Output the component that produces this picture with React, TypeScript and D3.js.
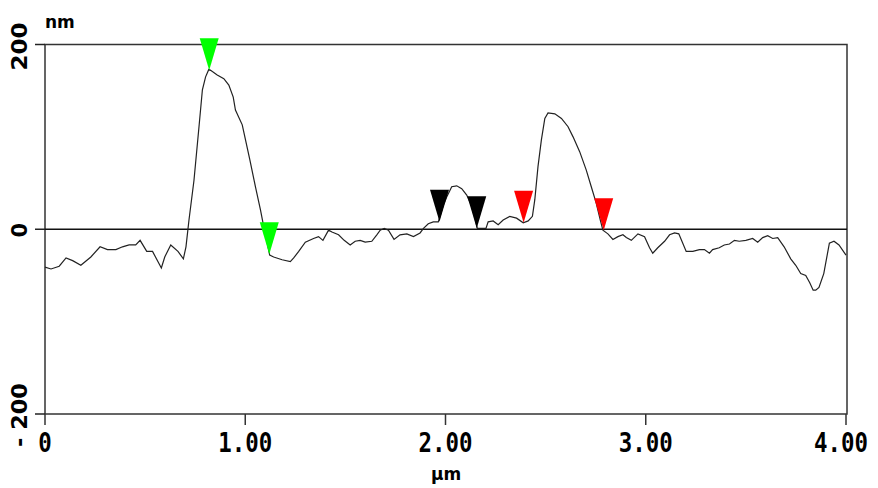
import React from "react";
import * as d3 from "d3";

// profile: distance (µm) / height (nm)
const xs = [
  0, 0.03, 0.071, 0.105, 0.138, 0.179, 0.229, 0.275, 0.312, 0.354, 0.387, 0.42, 0.453, 0.475,
  0.508, 0.537, 0.581, 0.598, 0.628, 0.664, 0.691, 0.704, 0.719, 0.744, 0.769, 0.786, 0.802,
  0.818, 0.827, 0.86, 0.893, 0.918, 0.94, 0.951, 0.985, 1.001, 1.023, 1.051, 1.076, 1.092,
  1.122, 1.142, 1.184, 1.225, 1.242, 1.267, 1.3, 1.341, 1.366, 1.388, 1.416, 1.433, 1.466,
  1.494, 1.524, 1.549, 1.574, 1.599, 1.632, 1.657, 1.674, 1.694, 1.715, 1.743, 1.773, 1.807,
  1.84, 1.873, 1.89, 1.914, 1.939, 1.964, 1.989, 2.006, 2.022, 2.031, 2.056, 2.081, 2.106,
  2.131, 2.147, 2.159, 2.181, 2.202, 2.213, 2.238, 2.263, 2.288, 2.321, 2.355, 2.388, 2.413,
  2.434, 2.446, 2.462, 2.479, 2.496, 2.512, 2.546, 2.579, 2.612, 2.637, 2.67, 2.703, 2.728,
  2.753, 2.773, 2.786, 2.811, 2.836, 2.861, 2.886, 2.903, 2.928, 2.961, 2.994, 3.019, 3.035,
  3.06, 3.094, 3.119, 3.144, 3.165, 3.177, 3.202, 3.235, 3.268, 3.293, 3.318, 3.334, 3.367,
  3.392, 3.418, 3.443, 3.467, 3.5, 3.534, 3.559, 3.584, 3.609, 3.634, 3.659, 3.691, 3.724,
  3.749, 3.774, 3.799, 3.819, 3.836, 3.849, 3.865, 3.889, 3.906, 3.917, 3.94, 3.965, 4.0,
];
const heights = [
  -41, -43, -40, -31, -34, -39, -30, -19, -22, -22, -19, -17, -17, -12,
  -24, -24, -42, -30, -17, -24, -32, -19, 10, 53, 111, 151, 165,
  173, 172, 167, 163, 156, 143, 129, 113, 97, 75, 46, 21, 3,
  -28, -30, -33, -35, -31, -24, -14, -10, -8, -12, -1, -3, -6,
  -12, -17, -13, -12, -14, -13, -6, -1, 1, -1, -11, -6, -5,
  -8, -4, 1, 6, 8, 8, 26, 35, 42, 46, 47, 44, 37,
  25, 12, 1, 1, 1, 8, 9, 5, 10, 14, 12, 7, 9,
  14, 32, 68, 97, 120, 126, 125, 120, 111, 100, 84, 64, 46,
  28, 10, -1, -5, -11, -8, -6, -9, -12, -5, -8, -20, -26,
  -20, -13, -6, -4, -5, -11, -24, -24, -22, -22, -26, -22, -20,
  -17, -16, -12, -13, -12, -10, -14, -9, -7, -10, -9, -19, -32,
  -39, -48, -50, -58, -66, -66, -63, -48, -28, -15, -13, -17, -28,
];

// cursor markers
const markerX = [0.82, 1.12, 1.97, 2.156, 2.39, 2.79];
const markerY = [172, -27, 8, 1, 7, -1];
const markerColors = ["#00ff00", "#00ff00", "#000000", "#000000", "#ff0000", "#ff0000"];

const xTicks = [0, 1, 2, 3, 4];
const xTickLabels = ["0", "1.00", "2.00", "3.00", "4.00"];
const yTicks = [200, 0, -200];
const yTickLabels = ["200", "0", "- 200"];

const W = 878;
const H = 488;

export default function App() {
  const x = d3.scaleLinear().domain([0, 4]).range([45, 846]);
  const y = d3.scaleLinear().domain([-200, 200]).range([414, 44.5]);

  const data = xs.map((v, i) => [v, heights[i]] as [number, number]);
  const line = d3
    .line<[number, number]>()
    .x((d) => x(d[0]))
    .y((d) => y(d[1]));

  const [x0, x1] = x.range();
  const [yb, yt] = y.range();
  const tri = (cx: number, cy: number) =>
    `M${cx - 9.5},${cy - 32}L${cx + 9.5},${cy - 32}L${cx},${cy}Z`;

  return (
    <svg
      width={W}
      height={H}
      style={{ position: "absolute", left: 0, top: 0, background: "#fff" }}
      fontFamily="DejaVu Sans"
    >
      {/* frame */}
      <rect x={x0} y={yt} width={x1 + 1 - x0} height={yb - yt} fill="none" stroke="#333" strokeWidth={1.5} />

      {/* y ticks and zero line */}
      {yTicks.map((t, i) => (
        <g key={t}>
          <line x1={35} x2={x0} y1={y(t)} y2={y(t)} stroke="#222" strokeWidth={1.5} />
          <text
            transform={`translate(27,${y(t) + (t === -200 ? 1 : t === 200 ? 2 : 1)}) rotate(-90)`}
            textAnchor="middle"
            fontWeight="bold"
            fontSize={21}
            fill="#000"
            textLength={t === 0 ? undefined : t === 200 ? 48 : 64}
            lengthAdjust="spacingAndGlyphs"
          >
            {yTickLabels[i]}
          </text>
        </g>
      ))}
      <line x1={x0} x2={x1 + 1} y1={y(0)} y2={y(0)} stroke="#111" strokeWidth={1.5} />

      {/* x ticks */}
      {xTicks.map((t, i) => (
        <g key={t}>
          <line x1={x(t)} x2={x(t)} y1={yb} y2={yb + 11} stroke="#333" strokeWidth={1.5} />
          <text
            x={t === 4 ? x(t) - 5 : x(t)}
            y={452}
            textAnchor="middle"
            fontFamily="DejaVu Sans Mono"
            fontWeight="bold"
            fontSize={27}
            fill="#000"
            textLength={xTickLabels[i].length * 13.5}
            lengthAdjust="spacingAndGlyphs"
          >
            {xTickLabels[i]}
          </text>
        </g>
      ))}

      {/* profile */}
      <path d={line(data) ?? ""} fill="none" stroke="#222" strokeWidth={1.2} />

      {/* markers */}
      {markerX.map((m, i) => (
        <path key={i} d={tri(x(m), y(markerY[i]))} fill={markerColors[i]} />
      ))}

      {/* units */}
      <text x={45} y={28} fontWeight="bold" fontSize={17} fill="#000">
        nm
      </text>
      <text x={446} y={480} textAnchor="middle" fontWeight="bold" fontSize={17} fill="#000">
        µm
      </text>
    </svg>
  );
}
